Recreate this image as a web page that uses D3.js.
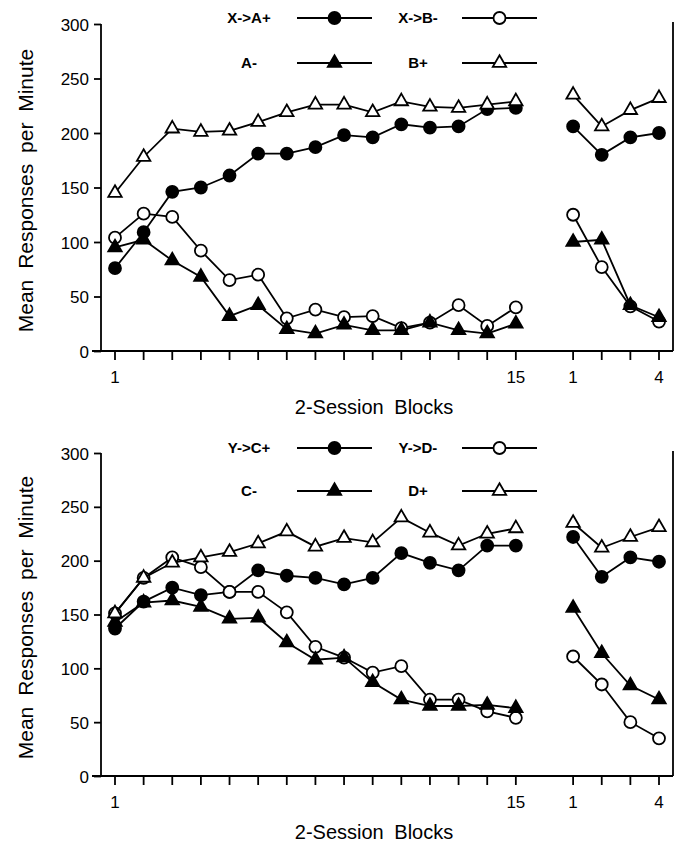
<!DOCTYPE html>
<html>
<head>
<meta charset="utf-8">
<script src="https://cdn.jsdelivr.net/npm/d3@7"></script>
<style>
  body { margin: 0; background: #fff; }
  svg { display: block; }
  text { font-family: "Liberation Sans", Arial, sans-serif; fill: #000; }
</style>
</head>
<body>
<svg id="chart" width="675" height="847"></svg>
<script>
// blocks (tick positions) and which ones get a label
var acqBlocks = [1, 2, 3, 4, 5, 6, 7, 8, 9, 10, 11, 12, 13, 14, 15];
var recBlocks = [1, 2, 3, 4];
var acqLabels = [1, 15];
var recLabels = [1, 4];
var yTicks = [0, 50, 100, 150, 200, 250, 300];

/************************* TOP PANEL ******************************/
var top_XAplus_acq = [76, 109, 146, 150, 161, 181, 181, 187, 198, 196, 208, 205, 206, 222, 223];
var top_XAplus_rec = [206, 180, 196, 200];
var top_XBminus_acq = [104, 126, 123, 92, 65, 70, 30, 38, 31, 32, 21, 26, 42, 23, 40];
var top_XBminus_rec = [125, 77, 41, 27];
var top_Aminus_acq = [95, 102, 83, 68, 32, 42, 20, 16, 24, 19, 19, 26, 19, 16, 25];
var top_Aminus_rec = [100, 102, 42, 31];
var top_Bplus_acq = [145, 178, 204, 201, 202, 210, 219, 226, 226, 219, 229, 224, 223, 226, 229];
var top_Bplus_rec = [235, 206, 221, 232];

/************************* BOTTOM PANEL ******************************/
var bot_YCplus_acq = [137, 162, 175, 168, 171, 191, 186, 184, 178, 184, 207, 198, 191, 214, 214];
var bot_YCplus_rec = [222, 185, 203, 199];
var bot_YDminus_acq = [151, 184, 203, 194, 171, 171, 152, 120, 110, 96, 102, 71, 71, 60, 54];
var bot_YDminus_rec = [111, 85, 50, 35];
var bot_Cminus_acq = [143, 161, 163, 157, 146, 147, 124, 108, 110, 87, 71, 65, 65, 66, 63];
var bot_Cminus_rec = [156, 114, 84, 71];
var bot_Dplus_acq = [151, 184, 198, 203, 208, 216, 227, 213, 221, 217, 240, 226, 214, 225, 230];
var bot_Dplus_rec = [235, 212, 222, 231];

var panels = [
  {
    top: 24, bottom: 351, legendY: [18, 63],
    series: [
      { name: "X->A+", acq: top_XAplus_acq, rec: top_XAplus_rec, shape: "circle", fill: "#000", col: 0, row: 0 },
      { name: "X->B-", acq: top_XBminus_acq, rec: top_XBminus_rec, shape: "circle", fill: "#fff", col: 1, row: 0 },
      { name: "A-", acq: top_Aminus_acq, rec: top_Aminus_rec, shape: "triangle", fill: "#000", col: 0, row: 1 },
      { name: "B+", acq: top_Bplus_acq, rec: top_Bplus_rec, shape: "triangle", fill: "#fff", col: 1, row: 1 }
    ]
  },
  {
    top: 453, bottom: 776, legendY: [448, 491],
    series: [
      { name: "Y->C+", acq: bot_YCplus_acq, rec: bot_YCplus_rec, shape: "circle", fill: "#000", col: 0, row: 0 },
      { name: "Y->D-", acq: bot_YDminus_acq, rec: bot_YDminus_rec, shape: "circle", fill: "#fff", col: 1, row: 0 },
      { name: "C-", acq: bot_Cminus_acq, rec: bot_Cminus_rec, shape: "triangle", fill: "#000", col: 0, row: 1 },
      { name: "D+", acq: bot_Dplus_acq, rec: bot_Dplus_rec, shape: "triangle", fill: "#fff", col: 1, row: 1 }
    ]
  }
];

var svg = d3.select("#chart");

// position index: acquisition blocks 0..14, then a gap, recovery 16..19
function acqPos(b) { return b - 1; }
function recPos(b) { return acqBlocks.length + b; }

var x = d3.scaleLinear().domain([0, 19]).range([115, 659]);

var triangle = d3.symbol().type(d3.symbolTriangle).size(78);

function drawMarker(g, shape, fill, cx, cy) {
  if (shape == "circle") {
    g.append("circle")
      .attr("cx", cx).attr("cy", cy).attr("r", 6)
      .attr("fill", fill).attr("stroke", "#000").attr("stroke-width", 1.8);
  } else {
    g.append("path")
      .attr("d", triangle())
      .attr("transform", "translate(" + cx + "," + cy + ")")
      .attr("fill", fill).attr("stroke", "#000").attr("stroke-width", 1.8)
      .attr("stroke-linejoin", "miter");
  }
}

panels.forEach(function (p) {
  var y = d3.scaleLinear().domain([0, 300]).range([p.bottom, p.top]);
  var g = svg.append("g");

  // axes
  var yAxis = d3.axisLeft(y).tickValues(yTicks).tickSize(7).tickPadding(5);
  var ya = g.append("g").attr("transform", "translate(101,0)").call(yAxis);
  ya.select(".domain").remove();
  ya.selectAll("line").attr("stroke", "#000").attr("stroke-width", 1.8);
  ya.selectAll("text").style("font-size", "17px").attr("dy", "0.36em");

  g.append("line")
    .attr("x1", 101).attr("x2", 101).attr("y1", y(300)).attr("y2", y(0))
    .attr("stroke", "#000").attr("stroke-width", 1.8);
  g.append("line")
    .attr("x1", 92).attr("x2", 673).attr("y1", y(0)).attr("y2", y(0))
    .attr("stroke", "#000").attr("stroke-width", 1.8);
  g.append("line")
    .attr("x1", 673).attr("x2", 673).attr("y1", y(300) - 2).attr("y2", y(0))
    .attr("stroke", "#000").attr("stroke-width", 1.8);

  var tickPos = acqBlocks.map(acqPos).concat(recBlocks.map(recPos));
  g.selectAll(".xtick").data(tickPos).enter().append("line")
    .attr("x1", function (d) { return x(d); })
    .attr("x2", function (d) { return x(d); })
    .attr("y1", y(0)).attr("y2", y(0) + 9)
    .attr("stroke", "#000").attr("stroke-width", 1.8);

  var labels = acqLabels.map(function (b) { return { pos: acqPos(b), t: b }; })
    .concat(recLabels.map(function (b) { return { pos: recPos(b), t: b }; }));
  g.selectAll(".xlab").data(labels).enter().append("text")
    .attr("x", function (d) { return x(d.pos); })
    .attr("y", y(0) + 32)
    .attr("text-anchor", "middle")
    .style("font-size", "17px")
    .text(function (d) { return d.t; });

  g.append("text")
    .attr("x", 374).attr("y", y(0) + 63)
    .attr("text-anchor", "middle")
    .style("font-size", "20px")
    .style("word-spacing", "5px")
    .text("2-Session Blocks");

  g.append("text")
    .attr("transform", "translate(33," + ((y(0) + y(300)) / 2 + 3) + ") rotate(-90)")
    .attr("text-anchor", "middle")
    .style("font-size", "21px")
    .style("word-spacing", "5px")
    .text("Mean Responses per Minute");

  // series
  var line = d3.line()
    .x(function (d) { return x(d.pos); })
    .y(function (d) { return y(d.v); });

  p.series.forEach(function (s) {
    var acq = s.acq.map(function (v, i) { return { pos: acqPos(acqBlocks[i]), v: v }; });
    var rec = s.rec.map(function (v, i) { return { pos: recPos(recBlocks[i]), v: v }; });
    [acq, rec].forEach(function (seg) {
      g.append("path").attr("d", line(seg))
        .attr("fill", "none").attr("stroke", "#000").attr("stroke-width", 1.8);
    });
    acq.concat(rec).forEach(function (d) {
      drawMarker(g, s.shape, s.fill, x(d.pos), y(d.v));
    });
  });

  // legend
  var legTextX = [249, 418];
  var legLine = [[297, 372], [462, 537]];
  p.series.forEach(function (s) {
    var ly = p.legendY[s.row];
    g.append("text")
      .attr("x", legTextX[s.col]).attr("y", ly + 5)
      .attr("text-anchor", "middle")
      .style("font-size", "15px").style("font-weight", "bold")
      .text(s.name);
    g.append("line")
      .attr("x1", legLine[s.col][0]).attr("x2", legLine[s.col][1])
      .attr("y1", ly).attr("y2", ly)
      .attr("stroke", "#000").attr("stroke-width", 1.8);
    drawMarker(g, s.shape, s.fill, (legLine[s.col][0] + legLine[s.col][1]) / 2, ly);
  });
});
</script>
</body>
</html>
